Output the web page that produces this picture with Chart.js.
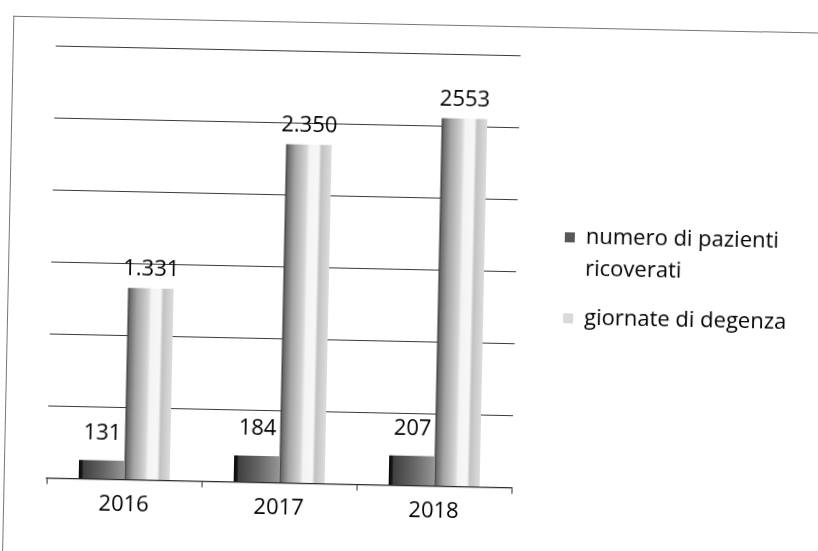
<!DOCTYPE html>
<html lang="it">
<head>
<meta charset="utf-8">
<title>Pazienti ricoverati e giornate di degenza</title>
<script src="https://cdn.jsdelivr.net/npm/chart.js@4.4.1/dist/chart.umd.min.js"></script>
<style>
    html, body { margin: 0; padding: 0; background: #fff; overflow: hidden; }
    #sheet {
        position: relative;
        width: 818px;
        height: 551px;
        transform: rotate(1.2deg);
        transform-origin: 409px 275px;
    }
    #frame {
        position: absolute;
        left: 8px;
        top: 24px;
        width: 900px;
        height: 600px;
        border-left: 1px solid #777;
        border-top: 1px solid #777;
    }
    #chart { position: absolute; left: 0; top: 0; }
</style>
</head>
<body>
<div id="sheet">
    <div id="frame"></div>
    <canvas id="chart" width="818" height="551"></canvas>
</div>
<script>
const anni = ['2016', '2017', '2018'];
const pazientiRicoverati = [131, 184, 207];
const giornateDegenza = [1331, 2350, 2553];
const etichettePazienti = ['131', '184', '207'];
const etichetteGiornate = ['1.331', '2.350', '2553'];
const nomiSerie = [['numero di pazienti', 'ricoverati'], ['giornate di degenza']];

const CAT_PCT = 0.587;
const FONT = '"Open Sans", "Noto Sans", sans-serif';
const INCHIOSTRO = '#000';

// gradient stops for the shaded columns
const scuro = [[0, '#080808'], [0.07, '#181818'], [0.1, '#404040'], [0.55, '#666666'], [1, '#969696']];
const chiaro = [[0, '#343434'], [0.05, '#6c6c6c'], [0.2, '#a4a4a4'], [0.45, '#d4d4d4'],
                [0.52, '#f4f4f4'], [0.72, '#f7f7f7'], [0.78, '#c2c2c2'], [1, '#dcdcdc']];

function barFill(stops) {
    return function (c) {
        const chart = c.chart;
        const x = chart.scales.x;
        if (!x || !chart.chartArea || c.type !== 'data') return stops[Math.floor(stops.length / 2)][1];
        const band = (x.right - x.left) / anni.length;
        const group = band * CAT_PCT;
        const w = group / 2;
        const left = x.getPixelForValue(c.dataIndex) - group / 2 + c.datasetIndex * w;
        const g = chart.ctx.createLinearGradient(left, 0, left + w, 0);
        stops.forEach(([o, col]) => g.addColorStop(o, col));
        return g;
    };
}

// value labels above each column
const valueLabels = {
    id: 'valueLabels',
    afterDatasetsDraw(chart) {
        const ctx = chart.ctx;
        const testi = [etichettePazienti, etichetteGiornate];
        const distanza = [27, 19];
        ctx.save();
        ctx.font = '22px ' + FONT;
        ctx.fillStyle = INCHIOSTRO;
        ctx.textAlign = 'center';
        ctx.textBaseline = 'middle';
        chart.data.datasets.forEach((ds, i) => {
            chart.getDatasetMeta(i).data.forEach((bar, j) => {
                ctx.fillText(testi[i][j], bar.x, bar.y - distanza[i]);
            });
        });
        ctx.restore();
    }
};

// legend on the right, with the first entry on two lines
const legendaDestra = {
    id: 'legendaDestra',
    afterDraw(chart) {
        const ctx = chart.ctx;
        const area = chart.chartArea;
        const boxX = area.right + 48;
        const textX = area.right + 69;
        let y = 234;
        ctx.save();
        ctx.font = '22px ' + FONT;
        ctx.textAlign = 'left';
        ctx.textBaseline = 'middle';
        chart.data.datasets.forEach((ds, i) => {
            ctx.fillStyle = i === 0 ? '#585858' : '#dadada';
            ctx.fillRect(boxX, y - 5, 10, 10);
            ctx.fillStyle = INCHIOSTRO;
            nomiSerie[i].forEach((riga, k) => {
                ctx.fillText(riga, textX, y + k * 32);
            });
            y += nomiSerie[i].length * 32 + 17;
        });
        ctx.restore();
    }
};

new Chart(document.getElementById('chart'), {
    type: 'bar',
    data: {
        labels: anni,
        datasets: [
            {
                label: nomiSerie[0].join(' '),
                data: pazientiRicoverati,
                backgroundColor: barFill(scuro),
                borderWidth: 0
            },
            {
                label: nomiSerie[1].join(' '),
                data: giornateDegenza,
                backgroundColor: barFill(chiaro),
                borderWidth: 0
            }
        ]
    },
    options: {
        responsive: false,
        animation: false,
        layout: { padding: { left: 51, right: 302, top: 53, bottom: 21 } },
        datasets: {
            bar: { categoryPercentage: CAT_PCT, barPercentage: 1 }
        },
        plugins: {
            legend: { display: false },
            tooltip: { enabled: false }
        },
        scales: {
            x: {
                grid: { drawOnChartArea: false, drawTicks: true, tickLength: 6, color: '#2a2a2a' },
                border: { display: true, color: '#2a2a2a', width: 1.2 },
                ticks: { color: INCHIOSTRO, font: { family: FONT, size: 22 }, padding: 6 }
            },
            y: {
                min: 0,
                max: 3000,
                ticks: { stepSize: 500, display: false },
                grid: { color: '#3a3a3a', lineWidth: 1, drawTicks: false },
                border: { display: false }
            }
        }
    },
    plugins: [valueLabels, legendaDestra]
});
</script>
</body>
</html>
